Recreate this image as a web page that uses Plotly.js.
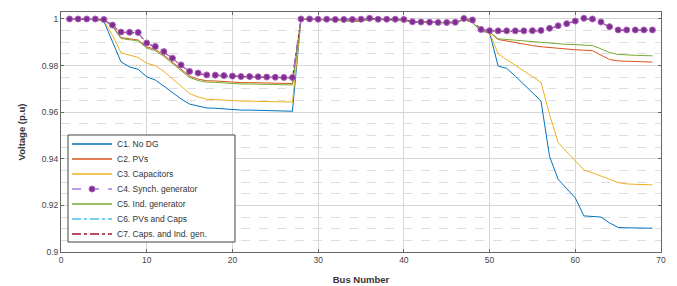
<!DOCTYPE html>
<html>
<head>
<meta charset="utf-8">
<script src="https://cdn.plot.ly/plotly-3.0.1.min.js"></script>
<style>
html,body{margin:0;padding:0;background:#fff;}
#chart{width:677px;height:286px;}
</style>
</head>
<body>
<div id="chart"></div>
<script>
var buses = [1,2,3,4,5,6,7,8,9,10,11,12,13,14,15,16,17,18,19,20,21,22,23,24,25,26,27,28,29,30,31,32,33,34,35,36,37,38,39,40,41,42,43,44,45,46,47,48,49,50,51,52,53,54,55,56,57,58,59,60,61,62,63,64,65,66,67,68,69];

var seriesNames = ["C1. No DG","C2. PVs","C3. Capacitors","C4. Synch. generator","C5. Ind. generator","C6. PVs and Caps","C7. Caps. and Ind. gen."];

var c1 = [1.0000,1.0000,0.9999,0.9998,0.9990,0.9900,0.9816,0.9794,0.9784,0.9752,0.9738,0.9712,0.9684,0.9657,0.9635,0.9625,0.9618,0.9617,0.9614,0.9612,0.9609,0.9609,0.9608,0.9607,0.9605,0.9604,0.9604,
0.9999,0.9999,0.9998,0.9997,0.9996,0.9994,0.9990,0.9990,0.9999,0.9998,0.9996,0.9995,0.9995,0.9988,0.9986,0.9985,0.9985,0.9984,0.9984,0.9998,0.9985,0.9947,0.9942,
0.9798,0.9788,0.9755,0.9720,0.9685,0.9648,0.9410,0.9312,0.9272,0.9232,0.9155,0.9153,0.9150,0.9125,0.9105,0.9104,0.9103,0.9102,0.9102];

var c2 = [1.0000,1.0000,0.9999,0.9998,0.9996,0.9970,0.9920,0.9915,0.9910,0.9880,0.9870,0.9845,0.9815,0.9785,0.9755,0.9742,0.9735,0.9734,0.9731,0.9729,0.9727,0.9727,0.9726,0.9725,0.9724,0.9723,0.9723,
0.9999,0.9999,0.9998,0.9997,0.9996,0.9994,0.9991,0.9991,0.9999,0.9998,0.9996,0.9995,0.9995,0.9988,0.9986,0.9985,0.9985,0.9984,0.9984,0.9998,0.9986,0.9948,0.9944,
0.9912,0.9905,0.9898,0.9892,0.9886,0.9881,0.9877,0.9873,0.9870,0.9868,0.9866,0.9864,0.9845,0.9826,0.9820,0.9818,0.9817,0.9816,0.9815];

var c3 = [1.0000,1.0000,0.9999,0.9998,0.9992,0.9930,0.9855,0.9845,0.9835,0.9810,0.9800,0.9775,0.9745,0.9712,0.9680,0.9665,0.9656,0.9655,0.9652,0.9650,0.9648,0.9648,0.9647,0.9646,0.9645,0.9644,0.9644,
0.9999,0.9999,0.9998,0.9997,0.9996,0.9994,0.9990,0.9990,0.9999,0.9998,0.9996,0.9995,0.9995,0.9988,0.9986,0.9985,0.9985,0.9984,0.9984,0.9998,0.9985,0.9947,0.9943,
0.9850,0.9825,0.9800,0.9775,0.9752,0.9728,0.9590,0.9470,0.9430,0.9392,0.9352,0.9340,0.9325,0.9310,0.9298,0.9292,0.9290,0.9289,0.9288];

var c4 = [1.0000,1.0000,1.0000,1.0000,0.9998,0.9974,0.9944,0.9943,0.9942,0.9897,0.9882,0.9860,0.9832,0.9803,0.9775,0.9768,0.9760,0.9759,0.9757,0.9755,0.9753,0.9753,0.9752,0.9751,0.9750,0.9749,0.9749,
1.0000,1.0000,0.9999,0.9999,0.9998,0.9998,0.9998,0.9999,1.0003,0.9999,0.9999,0.9999,0.9998,0.9988,0.9987,0.9986,0.9985,0.9985,0.9986,1.0002,0.9996,0.9955,0.9950,
0.9949,0.9949,0.9949,0.9949,0.9950,0.9951,0.9960,0.9971,0.9980,0.9991,1.0003,1.0000,0.9987,0.9967,0.9953,0.9953,0.9953,0.9953,0.9953];

var c5 = [1.0000,1.0000,0.9999,0.9998,0.9995,0.9968,0.9916,0.9911,0.9906,0.9875,0.9864,0.9839,0.9809,0.9779,0.9749,0.9736,0.9729,0.9728,0.9725,0.9723,0.9721,0.9721,0.9720,0.9719,0.9718,0.9717,0.9717,
0.9999,0.9999,0.9998,0.9997,0.9996,0.9994,0.9990,0.9990,0.9999,0.9998,0.9996,0.9995,0.9995,0.9988,0.9986,0.9985,0.9985,0.9984,0.9984,0.9998,0.9986,0.9948,0.9944,
0.9915,0.9912,0.9908,0.9904,0.9900,0.9897,0.9894,0.9892,0.9891,0.9890,0.9888,0.9886,0.9872,0.9856,0.9848,0.9845,0.9844,0.9843,0.9842];

var c6 = [1.0000,1.0000,1.0000,1.0000,0.9998,0.9973,0.9943,0.9942,0.9941,0.9896,0.9881,0.9859,0.9831,0.9802,0.9774,0.9767,0.9759,0.9758,0.9756,0.9754,0.9752,0.9752,0.9751,0.9750,0.9749,0.9748,0.9748,
1.0000,1.0000,0.9999,0.9999,0.9998,0.9998,0.9998,0.9999,1.0002,0.9999,0.9999,0.9999,0.9998,0.9988,0.9987,0.9986,0.9985,0.9985,0.9986,1.0001,0.9995,0.9954,0.9949,
0.9948,0.9948,0.9948,0.9948,0.9949,0.9950,0.9959,0.9970,0.9979,0.9990,1.0002,0.9999,0.9986,0.9966,0.9952,0.9952,0.9952,0.9952,0.9952];

var c7 = [1.0000,1.0000,1.0000,1.0000,0.9997,0.9972,0.9942,0.9941,0.9940,0.9895,0.9880,0.9858,0.9830,0.9801,0.9773,0.9766,0.9758,0.9757,0.9755,0.9753,0.9751,0.9751,0.9750,0.9749,0.9748,0.9747,0.9747,
1.0000,1.0000,0.9999,0.9999,0.9998,0.9998,0.9998,0.9999,1.0002,0.9999,0.9999,0.9999,0.9998,0.9988,0.9987,0.9986,0.9985,0.9985,0.9986,1.0001,0.9995,0.9954,0.9949,
0.9947,0.9947,0.9947,0.9947,0.9948,0.9949,0.9958,0.9969,0.9978,0.9989,1.0001,0.9998,0.9985,0.9965,0.9951,0.9951,0.9951,0.9951,0.9951];

var xTickVals = [0,10,20,30,40,50,60,70];
var xTickText = ["0","10","20","30","40","50","60","70"];
var yTickVals = [0.9,0.92,0.94,0.96,0.98,1];
var yTickText = ["0.9","0.92","0.94","0.96","0.98","1"];

var values = [c1,c2,c3,c4,c5,c6,c7];
var colors = ["#0072BD","#D95319","#EDB120","#7E2F8E","#77AC30","#4DBEEE","#A2142F"];
var dashes = ["solid","solid","solid","dash","solid","dashdot","dashdot"];
var c4Line = "#A77BE0", c4Marker = "#7E2F8E", c4MarkerEdge = "#B060C0";

var traces = values.map(function(v,i){
  var t = {
    x: buses, y: v, name: seriesNames[i], type: "scatter",
    mode: "lines", showlegend: false,
    line: {color: colors[i], width: 1, dash: dashes[i]}
  };
  if (i === 3) {
    t.mode = "lines+markers";
    t.line = {color: c4Line, width: 1, dash: "dash"};
    t.marker = {color: c4Marker, size: 6, line: {color: c4MarkerEdge, width: 1}};
  }
  return t;
});
var order = [0,2,1,4,5,6,3];
var data = order.map(function(i){ return traces[i]; });

// custom compact legend (paper coords; plot area 600 x 240 px)
var W = 600, H = 240;
function px(x){ return (x - 61) / W; }
function py(y){ return (252 - y) / H; }
var shapes = [{
  type: "rect", xref: "paper", yref: "paper",
  x0: px(68), x1: px(235), y0: py(242), y1: py(135),
  line: {color: "#444", width: 1}, fillcolor: "#fff", layer: "above"
}];
var annotations = [];
seriesNames.forEach(function(nm, i){
  var yc = 144 + i * 15.0;
  var lc = i === 3 ? c4Line : colors[i];
  shapes.push({
    type: "line", xref: "paper", yref: "paper",
    x0: px(72), x1: px(112), y0: py(yc), y1: py(yc),
    line: {color: lc, width: 1.3, dash: dashes[i]}, layer: "above"
  });
  if (i === 3) {
    shapes.push({
      type: "circle", xref: "paper", yref: "paper",
      xsizemode: "pixel", ysizemode: "pixel",
      xanchor: px(92), yanchor: py(yc),
      x0: -3, x1: 3, y0: -3, y1: 3,
      fillcolor: c4Marker, line: {color: c4MarkerEdge, width: 1}, layer: "above"
    });
  }
  annotations.push({
    xref: "paper", yref: "paper", x: px(115), y: py(yc),
    xanchor: "left", yanchor: "middle", showarrow: false,
    text: nm, font: {size: 8.5, color: "#333"}
  });
});

var layout = {
  width: 677, height: 286,
  margin: {l: 61, r: 16, t: 12, b: 34},
  paper_bgcolor: "#fff", plot_bgcolor: "#fff",
  font: {family: "Liberation Sans, Arial, sans-serif", size: 9, color: "#333"},
  showlegend: false,
  shapes: shapes,
  annotations: annotations,
  xaxis: {
    range: [0,70], tickvals: xTickVals, ticktext: xTickText,
    showgrid: true, gridcolor: "#d6d6d6", gridwidth: 1,
    zeroline: false, showline: true, linecolor: "#666", linewidth: 1, mirror: "ticks",
    ticks: "inside", ticklen: 3, tickcolor: "#666",
    tickfont: {size: 8.5, color: "#444"},
    title: {text: "Bus Number", font: {size: 9.5, color: "#333", weight: "bold"}, standoff: 12}
  },
  yaxis: {
    range: [0.9,1.003], tickvals: yTickVals, ticktext: yTickText,
    showgrid: true, gridcolor: "#d6d6d6", gridwidth: 1,
    zeroline: false, showline: true, linecolor: "#666", linewidth: 1, mirror: "ticks",
    ticks: "inside", ticklen: 3, tickcolor: "#666",
    tickfont: {size: 8.5, color: "#444"},
    minor: {dtick: 0.005, tick0: 0.9, showgrid: true, gridcolor: "#dedede", griddash: "dash", gridwidth: 1, ticks: ""},
    title: {text: "Voltage (p.u)", font: {size: 9.5, color: "#333", weight: "bold"}, standoff: 14}
  }
};

Plotly.newPlot("chart", data, layout, {staticPlot: true, displayModeBar: false});
</script>
</body>
</html>
